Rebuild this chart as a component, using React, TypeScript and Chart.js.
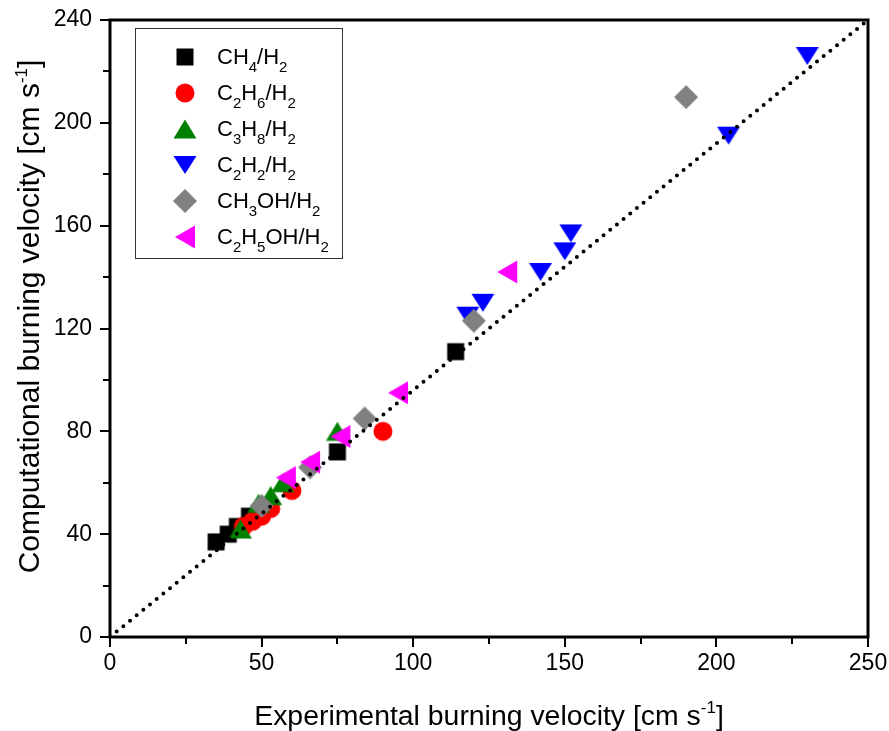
import React, { useEffect, useRef } from "react";
import { Chart, registerables } from "chart.js";

Chart.register(...registerables);

// ---------- data ----------
const SERIES_LABELS = ["CH₄/H₂", "C₂H₆/H₂", "C₃H₈/H₂", "C₂H₂/H₂", "CH₃OH/H₂", "C₂H₅OH/H₂"];

const CH4_X = [35, 39, 42, 46, 75, 114];
const CH4_Y = [37, 40, 43, 47, 72, 111];

const C2H6_X = [44, 47, 50, 53, 60, 90];
const C2H6_Y = [43, 45, 47, 50, 57, 80];

const C3H8_X = [43, 49, 53, 57, 75];
const C3H8_Y = [42, 52, 55, 60, 80];

const C2H2_X = [118, 123, 142, 150, 152, 204, 230];
const C2H2_Y = [125, 130, 142, 150, 157, 195, 226];

const CH3OH_X = [50, 66, 84, 120, 190];
const CH3OH_Y = [51, 66, 85, 123, 210];

const C2H5OH_X = [58, 66, 76, 95, 131];
const C2H5OH_Y = [62, 68, 78, 95, 142];

const PARITY_X = [0, 250];
const PARITY_Y = [0, 240];

const X_MAJOR_TICKS = [0, 50, 100, 150, 200, 250];
const X_MINOR_TICKS = [25, 75, 125, 175, 225];
const Y_MAJOR_TICKS = [0, 40, 80, 120, 160, 200, 240];
const Y_MINOR_TICKS = [20, 60, 100, 140, 180, 220];

const X_TITLE = "Experimental burning velocity [cm s⁻¹]";
const Y_TITLE = "Computational burning velocity [cm s⁻¹]";

// ---------- styles ----------
const FONT = "'Liberation Sans', Arial, sans-serif";
const SHAPES = ["square", "circle", "up", "down", "diamond", "left"];
const COLORS = ["#000000", "#ff0000", "#008000", "#0000ff", "#808080", "#ff00ff"];

function makeMarker(shape: string, color: string): HTMLCanvasElement {
  const c = document.createElement("canvas");
  c.width = 26;
  c.height = 26;
  const ctx = c.getContext("2d")!;
  const cx = 13, cy = 13;
  ctx.fillStyle = color;
  ctx.beginPath();
  switch (shape) {
    case "square":
      ctx.rect(cx - 8.5, cy - 8.5, 17, 17);
      break;
    case "circle":
      ctx.arc(cx, cy, 9.5, 0, Math.PI * 2);
      break;
    case "up":
      ctx.moveTo(cx, cy - 9.5);
      ctx.lineTo(cx + 11.5, cy + 9.5);
      ctx.lineTo(cx - 11.5, cy + 9.5);
      break;
    case "down":
      ctx.moveTo(cx - 11.5, cy - 9);
      ctx.lineTo(cx + 11.5, cy - 9);
      ctx.lineTo(cx, cy + 9);
      break;
    case "diamond":
      ctx.moveTo(cx, cy - 12);
      ctx.lineTo(cx + 12, cy);
      ctx.lineTo(cx, cy + 12);
      ctx.lineTo(cx - 12, cy);
      break;
    case "left":
      ctx.moveTo(cx - 10, cy);
      ctx.lineTo(cx + 10, cy - 11.5);
      ctx.lineTo(cx + 10, cy + 11.5);
      break;
  }
  ctx.closePath();
  ctx.fill();
  return c;
}

const SUB = "₀₁₂₃₄₅₆₇₈₉";
const SUP: Record<string, string> = { "⁻": "-", "¹": "1", "²": "2", "³": "3" };

type Seg = { t: string; kind: "n" | "sub" | "sup" };
function segments(text: string): Seg[] {
  const out: Seg[] = [];
  for (const ch of text) {
    let kind: Seg["kind"] = "n";
    let t = ch;
    const si = SUB.indexOf(ch);
    if (si >= 0) { kind = "sub"; t = String(si); }
    else if (SUP[ch] !== undefined) { kind = "sup"; t = SUP[ch]; }
    const last = out[out.length - 1];
    if (last && last.kind === kind) last.t += t;
    else out.push({ t, kind });
  }
  return out;
}

function drawRich(
  ctx: CanvasRenderingContext2D,
  text: string,
  x: number,
  y: number,
  size: number,
  subSize: number,
  subDy: number,
  supDy: number,
  align: "left" | "center"
) {
  const segs = segments(text);
  const fontFor = (k: string) => `${k === "n" ? size : subSize}px ${FONT}`;
  let total = 0;
  for (const s of segs) {
    ctx.font = fontFor(s.kind);
    total += ctx.measureText(s.t).width;
  }
  let cx = align === "center" ? x - total / 2 : x;
  ctx.textAlign = "left";
  ctx.textBaseline = "alphabetic";
  for (const s of segs) {
    ctx.font = fontFor(s.kind);
    const dy = s.kind === "sub" ? subDy : s.kind === "sup" ? -supDy : 0;
    ctx.fillText(s.t, cx, y + dy);
    cx += ctx.measureText(s.t).width;
  }
}

const decorPlugin = {
  id: "decor",
  afterDraw(chart: any) {
    const ctx: CanvasRenderingContext2D = chart.ctx;
    const { left, right, top, bottom } = chart.chartArea;
    const xs = chart.scales.x;
    const ys = chart.scales.y;
    ctx.save();
    ctx.strokeStyle = "#000";
    ctx.lineWidth = 2;
    ctx.beginPath();
    for (const v of X_MAJOR_TICKS) {
      const p = Math.round(xs.getPixelForValue(v));
      ctx.moveTo(p, bottom);
      ctx.lineTo(p, bottom + 10);
    }
    for (const v of X_MINOR_TICKS) {
      const p = Math.round(xs.getPixelForValue(v));
      ctx.moveTo(p, bottom);
      ctx.lineTo(p, bottom + 7);
    }
    for (const v of Y_MAJOR_TICKS) {
      const p = Math.round(ys.getPixelForValue(v));
      ctx.moveTo(left, p);
      ctx.lineTo(left - 10, p);
    }
    for (const v of Y_MINOR_TICKS) {
      const p = Math.round(ys.getPixelForValue(v));
      ctx.moveTo(left, p);
      ctx.lineTo(left - 7, p);
    }
    ctx.stroke();
    ctx.lineWidth = 3;
    ctx.strokeRect(left, top, right - left, bottom - top);

    // axis titles
    ctx.fillStyle = "#000";
    drawRich(ctx, X_TITLE, (left + right) / 2, 725, 28.4, 17, 0, 12, "center");
    ctx.save();
    ctx.translate(39, (top + bottom) / 2 - 12);
    ctx.rotate(-Math.PI / 2);
    drawRich(ctx, Y_TITLE, 0, 0, 30, 17, 0, 12, "center");
    ctx.restore();

    // legend
    ctx.lineWidth = 1;
    ctx.strokeStyle = "#333";
    ctx.fillStyle = "#fff";
    ctx.fillRect(135.5, 28.5, 207, 230);
    ctx.strokeRect(135.5, 28.5, 207, 230);
    const rows = [57, 93, 129, 165, 201, 237];
    chart.data.datasets.forEach((ds: any, i: number) => {
      if (i >= SERIES_LABELS.length) return;
      const img = ds.pointStyle as HTMLCanvasElement;
      ctx.drawImage(img, 185 - img.width / 2, rows[i] - img.height / 2);
      ctx.fillStyle = "#000";
      drawRich(ctx, ds.label, 217, rows[i] + 7, 22, 15, 8, 0, "left");
    });
    ctx.restore();
  },
};

function toPoints(xs: number[], ys: number[]) {
  return xs.map((x, i) => ({ x, y: ys[i] }));
}

export default function App() {
  const ref = useRef<HTMLCanvasElement>(null);
  useEffect(() => {
    if (!ref.current) return;
    const series = [
      [CH4_X, CH4_Y],
      [C2H6_X, C2H6_Y],
      [C3H8_X, C3H8_Y],
      [C2H2_X, C2H2_Y],
      [CH3OH_X, CH3OH_Y],
      [C2H5OH_X, C2H5OH_Y],
    ];
    const datasets: any[] = series.map(([xs, ys], i) => ({
      type: "scatter",
      label: SERIES_LABELS[i],
      data: toPoints(xs, ys),
      pointStyle: makeMarker(SHAPES[i], COLORS[i]),
      backgroundColor: COLORS[i],
      borderColor: COLORS[i],
      order: 10 - i,
    }));
    datasets.push({
      type: "line",
      label: "parity",
      data: toPoints(PARITY_X, PARITY_Y),
      borderColor: "#000",
      borderWidth: 4,
      borderDash: [0, 8.6],
      borderCapStyle: "round",
      pointRadius: 0,
      fill: false,
      order: 0,
    });
    const chart = new Chart(ref.current, {
      type: "scatter",
      data: { datasets },
      options: {
        animation: false,
        responsive: false,
        events: [],
        layout: { padding: { top: 20, right: 21, left: 0, bottom: 0 } },
        plugins: { legend: { display: false }, tooltip: { enabled: false } },
        scales: {
          x: {
            type: "linear",
            min: 0,
            max: 250,
            grid: { display: false, drawTicks: true, tickLength: 10 },
            border: { display: false },
            ticks: {
              stepSize: 50,
              padding: 3,
              color: "#000",
              font: { family: FONT, size: 23 },
              maxRotation: 0,
            },
            afterFit: (s: any) => {
              s.height = 94;
              s.paddingLeft = 0;
              s.paddingRight = 0;
            },
          },
          y: {
            type: "linear",
            min: 0,
            max: 240,
            grid: { display: false, drawTicks: true, tickLength: 10 },
            border: { display: false },
            ticks: {
              stepSize: 40,
              padding: 8,
              color: "#000",
              font: { family: FONT, size: 23 },
            },
            afterFit: (s: any) => {
              s.width = 110;
              s.paddingTop = 0;
              s.paddingBottom = 0;
            },
          },
        },
      },
      plugins: [decorPlugin],
    });
    return () => chart.destroy();
  }, []);
  return (
    <div style={{ position: "absolute", left: 0, top: 0, width: 889, height: 731, background: "#fff" }}>
      <canvas ref={ref} width={889} height={731} />
    </div>
  );
}
